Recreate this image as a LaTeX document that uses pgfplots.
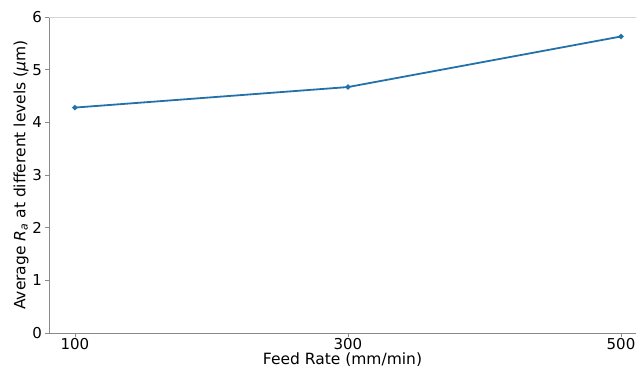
\documentclass[border=0pt]{standalone}
\usepackage{fontspec}
\setmainfont{DejaVu Sans}
\usepackage{pgfplots}
\pgfplotsset{compat=1.18}
\definecolor{lineblue}{HTML}{2271AB}
\definecolor{spine}{HTML}{8A8A8A}
\definecolor{topspine}{HTML}{D4D4D4}
\begin{document}
\begin{tikzpicture}
\begin{axis}[
  at={(0,0)}, anchor=south west,
  scale only axis, width=587bp, height=316bp,
  xmin=81, xmax=511, ymin=0, ymax=6,
  xtick={100,300,500}, ytick={0,1,2,3,4,5,6},
  axis x line*=bottom, axis y line*=left,
  axis line style={spine, line width=0.9bp, -},
  tick align=outside,
  major tick length=3.5bp,
  tick style={spine, line width=0.8bp},
  /pgf/number format/assume math mode=true,
  ticklabel style={font=\fontsize{15bp}{18bp}\selectfont, text=black},
  xticklabel style={yshift=1.5bp},
  label style={font=\fontsize{15.5bp}{18bp}\selectfont, text=black},
  xlabel={Feed Rate (mm/min)},
  ylabel={Average \textit{R}\textsubscript{\textit{a}} at different levels (\textit{μ}m)},
  xlabel style={yshift=3.5bp},
  ylabel style={yshift=-3bp},
  clip=false,
]
\draw[topspine, line width=0.9bp] (rel axis cs:0,1) -- (rel axis cs:1,1);
\addplot[lineblue, line width=1.8bp, mark=*, mark size=1.6bp, mark options={fill=lineblue, draw=lineblue}]
  coordinates {(100,4.28) (300,4.67) (500,5.63)};
\end{axis}
\pgfresetboundingbox
\useasboundingbox (-49bp,-36bp) rectangle (587bp,333bp);
\end{tikzpicture}
\end{document}
